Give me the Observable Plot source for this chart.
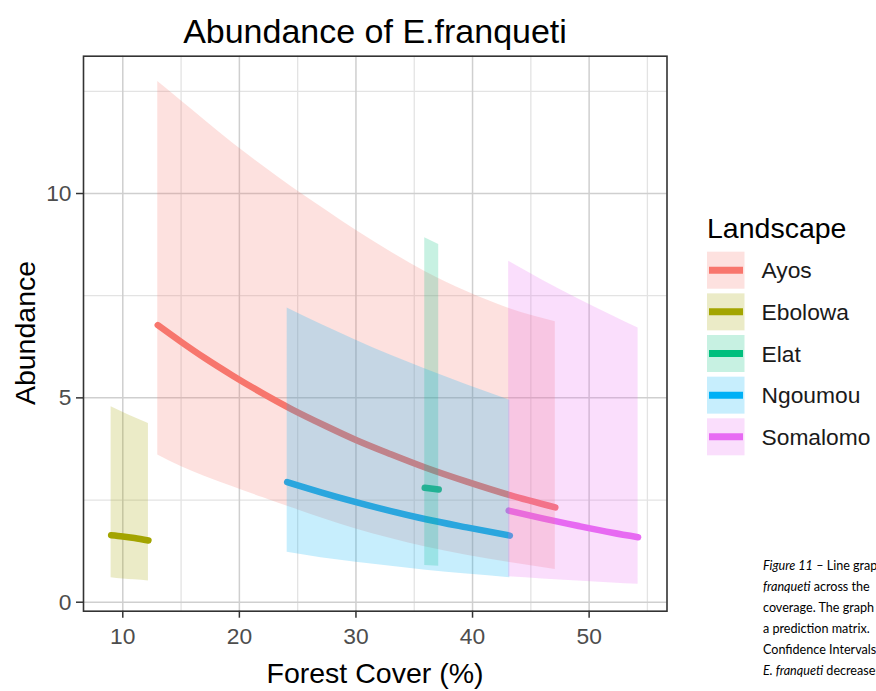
<!DOCTYPE html>
<html>
<head>
<meta charset="utf-8">
<script src="https://cdn.jsdelivr.net/npm/d3@7"></script>
<script src="https://cdn.jsdelivr.net/npm/@observablehq/plot@0.6"></script>
<style>
  html, body { margin: 0; padding: 0; background: #fff; overflow: hidden; }
  #wrap { position: relative; width: 876px; height: 691px; overflow: hidden; }
  #wrap > svg { position: absolute; left: 0; top: 0; }
</style>
</head>
<body>
<div id="wrap"></div>
<script>
// Landscapes and their ggplot-style hue colours
const landscapes = ["Ayos", "Ebolowa", "Elat", "Ngoumou", "Somalomo"];
const colors = ["#F8766D", "#A3A500", "#00BF7D", "#00B0F6", "#E76BF3"];

// Predicted abundance (fit) with lower / upper confidence limits, by forest cover (%)
const ayosCover = [13.0, 15.0, 17.0, 19.5, 22.0, 24.5, 27.5, 30.0, 33.0, 36.0, 39.5, 43.2, 47.1];
const ayosFit   = [6.78, 6.37, 5.98, 5.53, 5.11, 4.72, 4.30, 3.97, 3.62, 3.29, 2.95, 2.62, 2.32];
const ayosLower = [3.60, 3.32, 3.08, 2.82, 2.56, 2.31, 2.02, 1.79, 1.56, 1.35, 1.15, 0.97, 0.80];
const ayosUpper = [12.74, 12.27, 11.80, 11.22, 10.68, 10.16, 9.58, 9.10, 8.57, 8.08, 7.60, 7.18, 6.86];

const ebolowaCover = [9.0, 10.0, 11.0, 12.2];
const ebolowaFit   = [1.64, 1.61, 1.57, 1.51];
const ebolowaLower = [0.60, 0.57, 0.55, 0.52];
const ebolowaUpper = [4.78, 4.65, 4.52, 4.37];

const elatCover = [35.9, 37.1];
const elatFit   = [2.80, 2.76];
const elatLower = [0.90, 0.88];
const elatUpper = [8.92, 8.75];

const ngoumouCover = [24.1, 27.0, 30.0, 33.0, 36.0, 39.5, 43.2];
const ngoumouFit   = [2.94, 2.69, 2.45, 2.23, 2.03, 1.83, 1.63];
const ngoumouLower = [1.22, 1.09, 0.98, 0.88, 0.78, 0.69, 0.60];
const ngoumouUpper = [7.20, 6.80, 6.41, 6.04, 5.70, 5.32, 4.94];

const somalomoCover = [43.1, 46.0, 49.0, 52.0, 54.2];
const somalomoFit   = [2.24, 2.05, 1.87, 1.70, 1.59];
const somalomoLower = [0.62, 0.57, 0.52, 0.47, 0.44];
const somalomoUpper = [8.34, 7.88, 7.43, 7.01, 6.71];

// Axis ticks
const xMajor = [10, 20, 30, 40, 50];
const xMinor = [15, 25, 35, 45, 55];
const yMajor = [0, 5, 10];
const yMinor = [2.5, 7.5, 12.5];

// Long table built from the arrays above
const series = [
  ["Ayos", ayosCover, ayosFit, ayosLower, ayosUpper],
  ["Ebolowa", ebolowaCover, ebolowaFit, ebolowaLower, ebolowaUpper],
  ["Elat", elatCover, elatFit, elatLower, elatUpper],
  ["Ngoumou", ngoumouCover, ngoumouFit, ngoumouLower, ngoumouUpper],
  ["Somalomo", somalomoCover, somalomoFit, somalomoLower, somalomoUpper]
];
const rows = series.flatMap(([landscape, cover, fit, lower, upper]) =>
  cover.map((c, i) => ({landscape, cover: c, fit: fit[i], lower: lower[i], upper: upper[i]})));

const W = 876, H = 691;
const chartFont = "'Liberation Sans', Arial, Helvetica, sans-serif";
const ribbonOpacity = 0.22;

const chart = Plot.plot({
  width: W,
  height: H,
  marginLeft: 83,
  marginRight: 209.5,
  marginTop: 55.7,
  marginBottom: 80.3,
  style: {fontFamily: chartFont, background: "transparent", color: "#333"},
  x: {domain: [6.63, 56.68]},
  y: {domain: [-0.22, 13.36]},
  color: {domain: landscapes, range: colors},
  marks: [
    Plot.gridX(xMinor, {stroke: "#e3e3e3", strokeOpacity: 1, strokeWidth: 1.3}),
    Plot.gridY(yMinor, {stroke: "#e3e3e3", strokeOpacity: 1, strokeWidth: 1.3}),
    Plot.gridX(xMajor, {stroke: "#cfcfcf", strokeOpacity: 1, strokeWidth: 1.5}),
    Plot.gridY(yMajor, {stroke: "#cfcfcf", strokeOpacity: 1, strokeWidth: 1.5}),
    // fitted lines sit beneath the confidence ribbons
    Plot.lineY(rows, {x: "cover", y: "fit", z: "landscape", stroke: "landscape",
      strokeWidth: 6.5, curve: "monotone-x"}),
    Plot.areaY(rows, {x: "cover", y1: "lower", y2: "upper", z: "landscape", fill: "landscape",
      fillOpacity: ribbonOpacity, curve: "monotone-x"}),
    Plot.frame({stroke: "#333", strokeWidth: 1.6}),
    Plot.axisX(xMajor, {tickSize: 7, tickPadding: 10, fontSize: 22.8, fill: "#4d4d4d",
      stroke: "#333", strokeWidth: 1.5, label: null}),
    Plot.axisY(yMajor, {tickSize: 7, tickPadding: 5, fontSize: 22.8, fill: "#4d4d4d",
      stroke: "#333", strokeWidth: 1.5, label: null})
  ]
});
document.getElementById("wrap").appendChild(chart);

// Titles, legend and caption
const svg = d3.select("#wrap").append("svg")
  .attr("width", W).attr("height", H)
  .style("font-family", chartFont);

svg.append("text").attr("x", 375).attr("y", 43).attr("text-anchor", "middle")
  .attr("font-size", 34).attr("fill", "#000").text("Abundance of E.franqueti");

svg.append("text").attr("x", 375).attr("y", 683).attr("text-anchor", "middle")
  .attr("font-size", 28.5).attr("fill", "#000").text("Forest Cover (%)");

svg.append("text").attr("transform", "translate(35,333) rotate(-90)").attr("text-anchor", "middle")
  .attr("font-size", 28.5).attr("fill", "#000").text("Abundance");

// Legend
const legend = svg.append("g");
legend.append("text").attr("x", 707).attr("y", 238).attr("font-size", 28.5).attr("fill", "#000")
  .text("Landscape");
landscapes.forEach((name, i) => {
  const top = 251.7 + i * 41.65;
  legend.append("rect").attr("x", 707).attr("y", top).attr("width", 37.5).attr("height", 37)
    .attr("fill", colors[i]).attr("fill-opacity", ribbonOpacity);
  legend.append("line").attr("x1", 709).attr("x2", 743).attr("y1", top + 18.5).attr("y2", top + 18.5)
    .attr("stroke", colors[i]).attr("stroke-width", 7);
  legend.append("text").attr("x", 761.5).attr("y", top + 26.5).attr("font-size", 22.8)
    .attr("fill", "#1a1a1a").text(name);
});

// Caption (runs off the right edge of the page)
const caption = [
  [["Figure 11", true], [" – Line graph", false]],
  [["franqueti", true], [" across the", false]],
  [["coverage. The graph", false]],
  [["a prediction matrix.", false]],
  [["Confidence Intervals", false]],
  [["E. franqueti", true], [" decreases", false]]
];
const cap = svg.append("g").style("font-family", "Lato, 'Open Sans', sans-serif")
  .attr("font-size", 12.6).attr("fill", "#000");
caption.forEach((parts, i) => {
  const t = cap.append("text").attr("x", 763).attr("y", 570 + i * 21).attr("xml:space", "preserve");
  parts.forEach(([s, it]) => t.append("tspan").attr("font-style", it ? "italic" : "normal").text(s));
});
</script>
</body>
</html>
